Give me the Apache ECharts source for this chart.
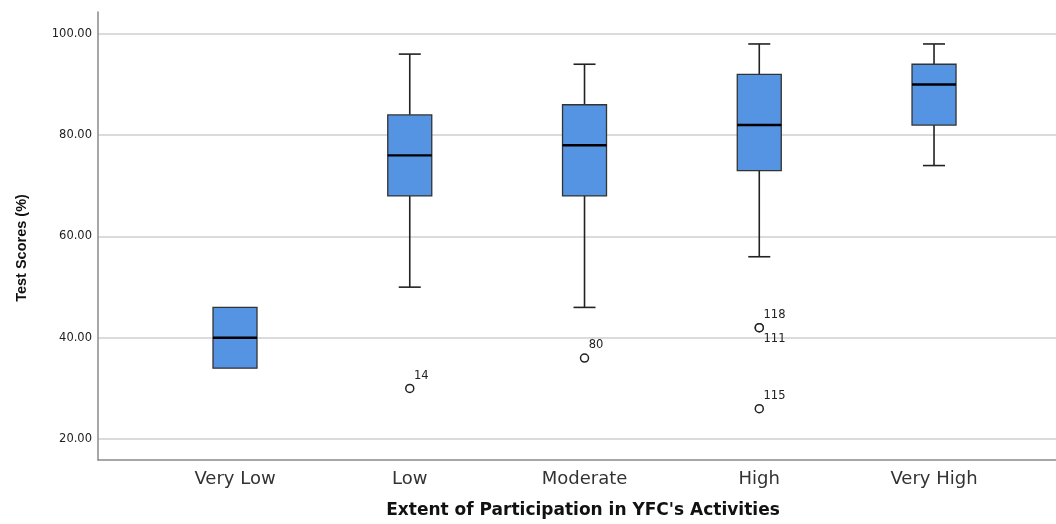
<!DOCTYPE html>
<html>
<head>
<meta charset="utf-8">
<script src="https://cdn.jsdelivr.net/npm/echarts@6/dist/echarts.min.js"></script>
<style>
html,body{margin:0;padding:0;background:#fff;}
#chart{width:1056px;height:524px;}
</style>
</head>
<body>
<div id="chart"></div>
<script>
const categories = ['Very Low', 'Low', 'Moderate', 'High', 'Very High'];
const whiskerLow = [34, 50, 46, 56, 74];
const q1 = [34, 68, 68, 73, 82];
const median = [40, 76, 78, 82, 90];
const q3 = [46, 84, 86, 92, 94];
const whiskerHigh = [46, 96, 94, 98, 98];
const outlierCategory = [1, 2, 3, 3, 3];
const outlierValues = [30, 36, 42, 42, 26];
const outlierLabels = ['14', '80', '118', '111', '115'];
const yTicks = [20, 40, 60, 80, 100];

const boxData = categories.map((c, i) => [i + 1, whiskerLow[i], q1[i], median[i], q3[i], whiskerHigh[i]]);
const outlierData = outlierValues.map((v, i) => ({
  value: [outlierCategory[i] + 1, v],
  label: {
    show: true,
    formatter: outlierLabels[i],
    position: outlierLabels[i] === '111' ? [9, 16] : [9, -8],
    align: 'left',
    verticalAlign: 'middle'
  }
}));

const FONT = 'DejaVu Sans';
const chart = echarts.init(document.getElementById('chart'));
const BOX_W = 44, CAP_W = 22;
chart.setOption({
  animation: false,
  grid: { left: 98, right: 0, top: 12, bottom: 61 },
  xAxis: {
    type: 'value',
    min: 0.216,
    max: 5.698,
    name: "Extent of Participation in YFC's Activities",
    nameLocation: 'middle',
    nameGap: 42,
    nameTextStyle: { fontFamily: FONT, fontSize: 17, fontWeight: 'bold', color: '#111', padding: [0, 0, 0, 12] },
    axisLine: { show: true, lineStyle: { color: '#8a8a8a', width: 1.5 } },
    axisTick: { show: false },
    splitLine: { show: false },
    axisLabel: {
      customValues: [1, 2, 3, 4, 5],
      formatter: v => categories[Math.round(v) - 1] || '',
      fontFamily: FONT, fontSize: 18, color: '#333', margin: 10
    }
  },
  yAxis: {
    type: 'value',
    min: 15.88,
    max: 104.31,
    name: 'Test Scores (%)',
    nameLocation: 'middle',
    nameRotate: 90,
    nameGap: 69,
    nameTextStyle: { fontFamily: 'Liberation Sans', fontSize: 14.5, fontWeight: 'bold', color: '#111', padding: [0, 24, 0, 0] },
    axisLine: { show: true, lineStyle: { color: '#8a8a8a', width: 1.5 } },
    axisTick: { show: false, customValues: yTicks },
    splitLine: { show: true, lineStyle: { color: '#cfcfcf', width: 1.5 } },
    axisLabel: {
      customValues: yTicks,
      formatter: v => v.toFixed(2),
      fontFamily: FONT, fontSize: 11.5, color: '#222', margin: 6
    }
  },
  series: [
    {
      type: 'custom',
      data: boxData,
      encode: { x: 0, y: [1, 2, 3, 4, 5] },
      renderItem: function (params, api) {
        const x = api.value(0);
        const pLow = api.coord([x, api.value(1)]);
        const pQ1 = api.coord([x, api.value(2)]);
        const pMed = api.coord([x, api.value(3)]);
        const pQ3 = api.coord([x, api.value(4)]);
        const pHigh = api.coord([x, api.value(5)]);
        const cx = pQ1[0];
        const lineStyle = { stroke: '#222', lineWidth: 1.6 };
        const children = [];
        if (pHigh[1] < pQ3[1] - 0.5) {
          children.push({ type: 'line', shape: { x1: cx, y1: pHigh[1], x2: cx, y2: pQ3[1] }, style: lineStyle });
          children.push({ type: 'line', shape: { x1: cx - CAP_W / 2, y1: pHigh[1], x2: cx + CAP_W / 2, y2: pHigh[1] }, style: lineStyle });
        }
        if (pLow[1] > pQ1[1] + 0.5) {
          children.push({ type: 'line', shape: { x1: cx, y1: pQ1[1], x2: cx, y2: pLow[1] }, style: lineStyle });
          children.push({ type: 'line', shape: { x1: cx - CAP_W / 2, y1: pLow[1], x2: cx + CAP_W / 2, y2: pLow[1] }, style: lineStyle });
        }
        children.push({
          type: 'rect',
          shape: { x: cx - BOX_W / 2, y: pQ3[1], width: BOX_W, height: pQ1[1] - pQ3[1] },
          style: { fill: '#5593e3', stroke: '#333', lineWidth: 1.3 }
        });
        children.push({ type: 'line', shape: { x1: cx - BOX_W / 2, y1: pMed[1], x2: cx + BOX_W / 2, y2: pMed[1] }, style: { stroke: '#000', lineWidth: 2.4 } });
        return { type: 'group', children: children };
      },
      z: 3
    },
    {
      type: 'scatter',
      data: outlierData,
      symbol: 'circle',
      symbolSize: 8,
      itemStyle: { color: '#fff', borderColor: '#222', borderWidth: 1.5, opacity: 1 },
      label: { fontFamily: FONT, fontSize: 11.5, color: '#222' },
      z: 4
    }
  ]
});
</script>
</body>
</html>
